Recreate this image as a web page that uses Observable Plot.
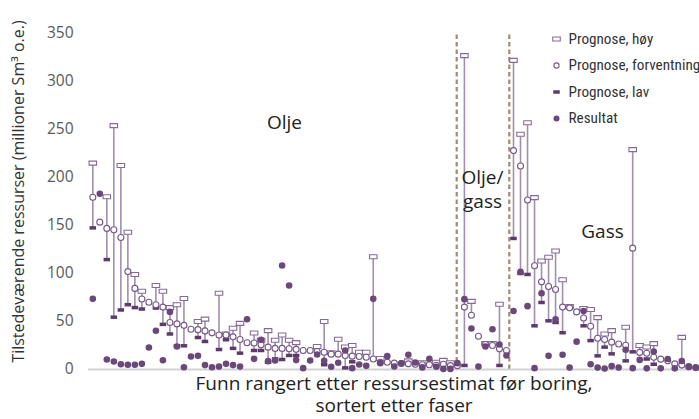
<!DOCTYPE html>
<html><head><meta charset="utf-8">
<script src="https://cdn.jsdelivr.net/npm/d3@7"></script>
<script src="https://cdn.jsdelivr.net/npm/@observablehq/plot@0.6"></script>
<style>body{margin:0;background:#fff}#chart{width:699px;height:419px}</style>
</head><body><div id="chart"></div>
<script>
// Discoveries ranked by pre-drill resource estimate, sorted by phase (million Sm3 o.e.)
const high = [215,null,180,254,212.5,143,99,81.5,null,87.5,81.5,64.5,67.5,74,null,50,52.5,null,79.5,37,43,48,null,38,30.5,40.5,30.5,36,30.5,28,null,null,24,50,17.5,31.5,23.5,25,18,18,117.5,11.5,null,null,null,9,null,7,null,7.5,9.5,7,null,
  327,71,null,27,27,68,null,
  322,245,257,179,113,117,123.5,93.5,65.5,null,63.5,62.5,54,37,40.5,null,44,229,25,23.5,27,null,null,null,33.5,null,null];
const expected = [179.5,153.5,147,145.5,137.5,102,84.5,73.5,70,67.5,65,49,47.5,46,42,41.5,40.2,38.2,36,36,34,31.2,27.8,27.6,25.8,23.3,22,22,21.6,21,19.8,19.8,18.7,18,16,16,14.6,13.9,13.5,12.8,11,7.6,7.6,6.6,6.3,5.9,5.5,5,5,4.5,5.5,4,4,
  65,56.5,34.7,26,25,21.5,19.8,
  228,212,176.5,108,91.3,86.5,83.3,65,64.2,60,53.6,45,32.6,31.2,28.5,26.5,25.3,126.4,17.8,17,12.7,10.8,9,5.9,4.6,3,2];
const low = [147.5,null,114.5,54.5,62,67.5,64.5,63,null,64,47,37,24.7,24.7,null,33.3,29.2,null,20.8,31,22,17,null,19.8,19.8,7.5,11,10.4,14.6,14.6,null,null,null,5,null,null,1.7,8,null,null,null,null,null,null,null,null,null,null,null,null,null,null,null,
  4.2,null,null,null,null,4.2,null,
  136.5,100,99,45.5,69.8,50.7,49,38.3,null,null,45.5,30.1,14.2,23.3,16.3,null,9,18.4,null,10.9,5.4,null,null,null,null,null,null];
const result = [73.6,183,10.4,8.3,5.5,4.9,4.9,5.9,22.9,40.3,9.7,60,24,2.4,13.5,14.2,4.6,2.4,3,5.9,4.6,3,52.4,11.1,31,8.7,9.5,108.3,87.5,9.8,1.4,9.4,15.6,9,2.8,7,19.8,1.4,5.2,3.8,73.6,6.6,13.9,3.1,6.5,15.3,7.3,2.2,11.1,2.8,0.6,0.6,6.6,
  73.3,42.7,3,24,42,26,14.6,
  61,101.7,66,1.4,79.5,14.2,52.4,15.3,2,29,61,5.4,2,1,3.5,2,20.5,1.4,10,1.2,18.7,1.2,10.9,1.2,8.8,2.7,2];
const phaseBreaks = [51.9, 59.4];
const yTicks = [0,50,100,150,200,250,300,350];
const legendLabels = ["Prognose, høy","Prognose, forventning","Prognose, lav","Resultat"];
const yLabel = "Tilstedeværende ressurser (millioner Sm³ o.e.)";
const xLabel = ["Funn rangert etter ressursestimat før boring,","sortert etter faser"];
const phaseNames = ["Olje","Olje/\ngass","Gass"];

const data = high.map((h,i)=>({i, high:h, expected:expected[i], low:low[i], result:result[i]}));
const n = data.length;

const rectSym = (w,h) => ({draw(ctx){ ctx.moveTo(-w/2,-h/2); ctx.lineTo(w/2,-h/2); ctx.lineTo(w/2,h/2); ctx.lineTo(-w/2,h/2); ctx.closePath(); }});
const HIGH = rectSym(7.5,4), LOW = rectSym(6.5,3.5);
const cLine="#a38eaf", cHigh="#866a96", cExp="#775889", cLow="#5c3a6c", cRes="#6a4879";
const font = "'Open Sans', sans-serif";
const legFont = "'Liberation Sans Narrow','Roboto Condensed','Open Sans',sans-serif";
const txt = {textAnchor:"middle", lineAnchor:"middle", fill:"#222", fontFamily:font};

const legendRows = [
  {dy:5.5, sym: {symbol: HIGH, fill:"white", stroke:cHigh, strokeWidth:1.1}},
  {dy:32, sym: {symbol:"circle", r:2.6, fill:"white", stroke:cExp, strokeWidth:1.1}},
  {dy:58.5, sym: {symbol: LOW, fill:cLow}},
  {dy:85, sym: {symbol:"circle", r:3, fill:cRes}}
];

const marks = [
  Plot.ruleX(phaseBreaks, {x: d=>d, y1: 0, y2: 350, stroke:"#a38a72", strokeWidth:2.2, strokeDasharray:"4.5,3"}),
  Plot.ruleY([0], {stroke:"#d2d2d2", strokeWidth:2}),
  Plot.axisY(yTicks, {tickSize:0, tickPadding:15, fontSize:15.5, fill:"#5a5a5a", label:null}),
  Plot.ruleX(data.filter(d=>d.high!=null), {x:"i", y1:d=>d.low ?? d.expected, y2:"high", stroke:cLine, strokeWidth:1.6}),
  Plot.ruleX(data.filter(d=>d.high==null && d.low!=null), {x:"i", y1:"low", y2:"expected", stroke:cLine, strokeWidth:1.6}),
  Plot.dot(data, {x:"i", y:"high", symbol:HIGH, fill:"white", stroke:cHigh, strokeWidth:1.1}),
  Plot.dot(data, {x:"i", y:"low", symbol:LOW, fill:cLow}),
  Plot.dot(data, {x:"i", y:"expected", r:3, fill:"white", stroke:cExp, strokeWidth:1.1}),
  Plot.dot(data, {x:"i", y:"result", r:3.3, fill:cRes}),
  Plot.text([yLabel], {...txt, text:d=>d, frameAnchor:"left", rotate:-90, dx:-70, dy:-10, fontSize:16, fill:"#333"}),
  Plot.text([xLabel[0]], {...txt, text:d=>d, frameAnchor:"bottom", dy:14.5, fontSize:19}),
  Plot.text([xLabel[1]], {...txt, text:d=>d, frameAnchor:"bottom", dy:36.5, fontSize:19}),
  Plot.text([phaseNames[0]], {...txt, text:d=>d, frameAnchor:"top-left", dx:196, dy:89, fontSize:19}),
  Plot.text([phaseNames[1]], {...txt, text:d=>d, frameAnchor:"top-left", dx:394, dy:155, lineHeight:1.26, fontSize:19}),
  Plot.text([phaseNames[2]], {...txt, text:d=>d, frameAnchor:"top-left", dx:514, dy:198, fontSize:19}),
  ...legendRows.flatMap((row,k)=>[
    Plot.dot([legendLabels[k]], {frameAnchor:"top-left", dx:468, dy:row.dy, ...row.sym}),
    Plot.text([legendLabels[k]], {...txt, text:d=>d, frameAnchor:"top-left", dx:480, dy:row.dy, textAnchor:"start", fontSize:15.2, fill:"#333", fontFamily:legFont})
  ])
];

const chart = Plot.plot({
  width:699, height:419,
  marginLeft:88, marginRight:0, marginTop:33, marginBottom:50,
  x:{domain:[0,n-1], range:[92.3,695.3], axis:null},
  y:{domain:[0,350], axis:null},
  style:{fontFamily:font, background:"white"},
  marks
});
document.getElementById("chart").appendChild(chart);
</script></body></html>
